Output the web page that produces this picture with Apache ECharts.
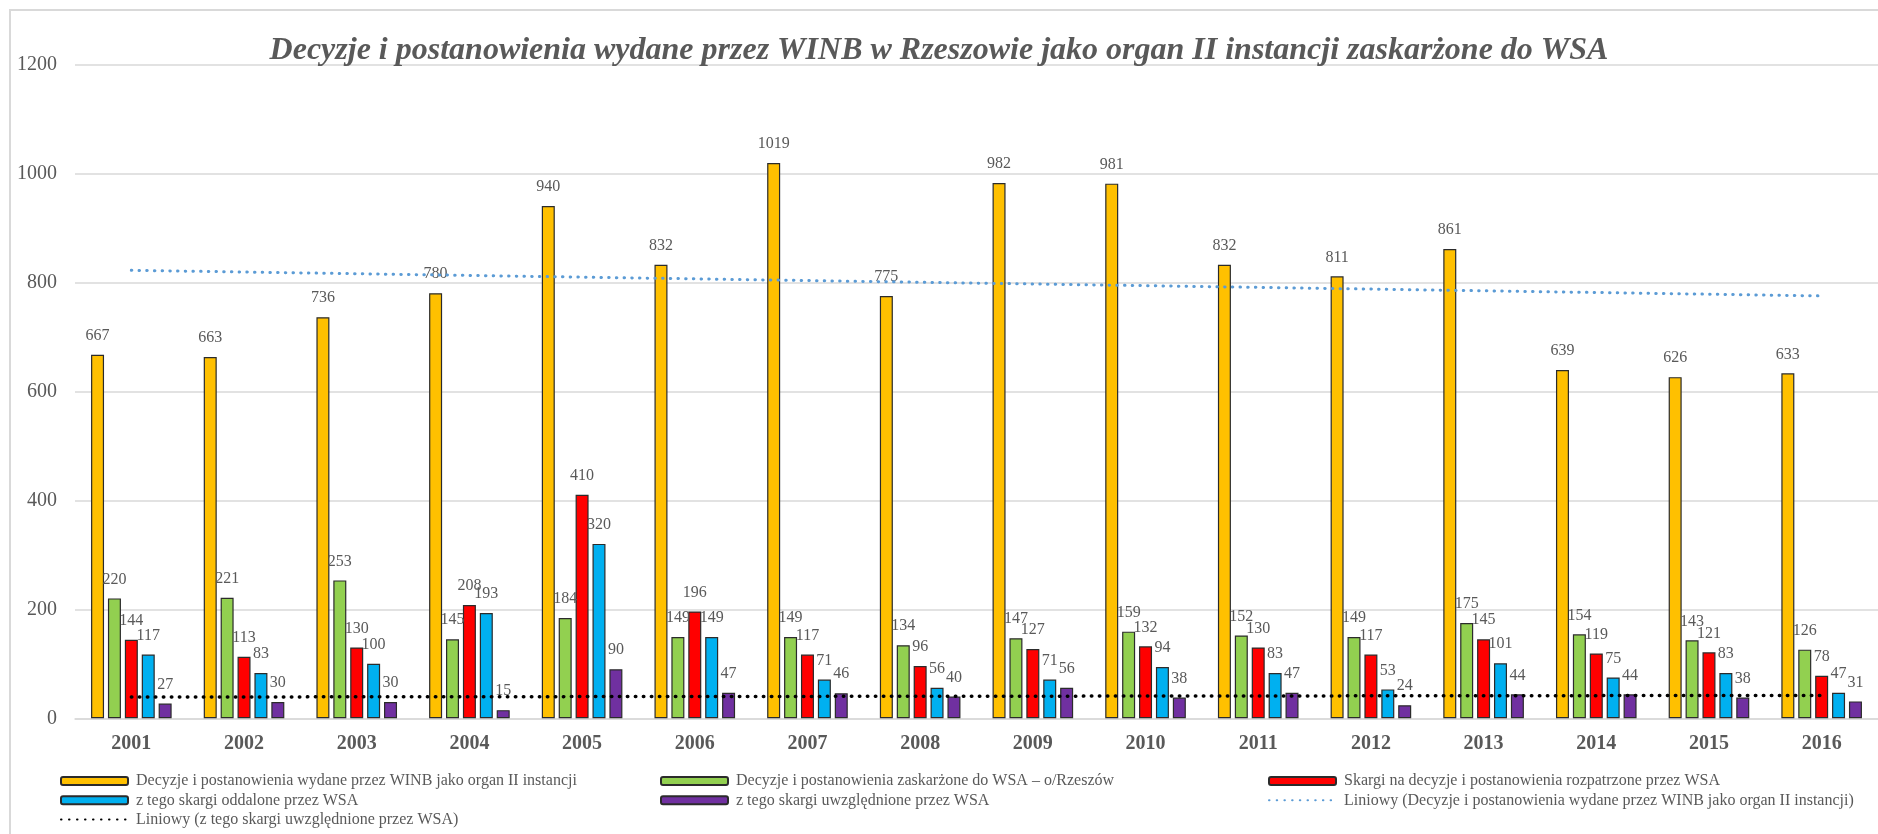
<!DOCTYPE html>
<html>
<head>
<meta charset="utf-8">
<script src="https://cdn.jsdelivr.net/npm/echarts@6/dist/echarts.min.js"></script>
<style>
html,body{margin:0;padding:0;background:#fff;}
#chart{width:1878px;height:834px;}
</style>
</head>
<body>
<div id="chart"></div>
<script>
const years = ['2001','2002','2003','2004','2005','2006','2007','2008','2009','2010','2011','2012','2013','2014','2015','2016'];
const decyzje = [667,663,736,780,940,832,1019,775,982,981,832,811,861,639,626,633];
const zaskarzone = [220,221,253,145,184,149,149,134,147,159,152,149,175,154,143,126];
const skargi = [144,113,130,208,410,196,117,96,127,132,130,117,145,119,121,78];
const oddalone = [117,83,100,193,320,149,71,56,71,94,83,53,101,75,83,47];
const uwzglednione = [27,30,30,15,90,47,46,40,56,38,47,24,44,44,38,31];
// trendline end values (first and last category)
const trendDecyzje = [822, 775];
const trendUwzgl = [39, 42];

const names = [
  'Decyzje i postanowienia wydane przez WINB jako organ II instancji',
  'Decyzje i postanowienia zaskarżone do WSA – o/Rzeszów',
  'Skargi na decyzje i postanowienia rozpatrzone przez WSA',
  'z tego skargi oddalone przez WSA',
  'z tego skargi uwzględnione przez WSA',
  'Liniowy (Decyzje i postanowienia wydane przez WINB jako organ II instancji)',
  'Liniowy (z tego skargi uwzględnione przez WSA)'
];
const colors = ['#FFC000','#92D050','#FF0000','#00B0F0','#7030A0'];
const serif = 'Liberation Serif';
const gray = '#595959';

function barSeries(i, data){
  return {
    name: names[i], type: 'bar', data: data,
    barWidth: 13, barGap: '30%',
    itemStyle: {color: colors[i], borderColor: '#2b2b2b', borderWidth: 1.2},
    label: {show: true, position: 'top', distance: 11, color: gray,
            fontFamily: serif, fontSize: 16, lineHeight: 16},
    z: 2
  };
}
const legendText = {fontFamily: serif, fontSize: 16, color: gray, lineHeight: 16, padding: [0,0,0,3]};
const lineLegend = (n) => ({name: n, itemStyle: {opacity: 0}});
const legendBase = {orient: 'vertical', top: 773, height: 80, padding: 0,
  itemWidth: 67, itemHeight: 8, itemGap: 3.3, textStyle: legendText};

const chart = echarts.init(document.getElementById('chart'), null, {renderer: 'canvas'});
chart.setOption({
  animation: false,
  backgroundColor: '#fff',
  title: {
    text: 'Decyzje i postanowienia wydane przez WINB w Rzeszowie jako organ II instancji zaskarżone do WSA',
    left: 'center', top: 30,
    textStyle: {fontFamily: serif, fontSize: 32, fontWeight: 'bold', fontStyle: 'italic', color: gray}
  },
  graphic: [{type: 'rect', shape: {x: 10, y: 10, width: 1900, height: 900},
             style: {fill: 'none', stroke: '#d9d9d9', lineWidth: 2}, silent: true, z: -1}],
  legend: [
    Object.assign({}, legendBase, {data: [names[0], names[3], lineLegend(names[6])], left: 60}),
    Object.assign({}, legendBase, {data: [names[1], names[4]], left: 660}),
    Object.assign({}, legendBase, {data: [names[2], lineLegend(names[5])], left: 1268})
  ],
  grid: {left: 75, top: 64.3, width: 1805, height: 654, containLabel: false},
  xAxis: {
    type: 'category', data: years,
    axisLine: {lineStyle: {color: '#d9d9d9', width: 1.5}},
    axisTick: {show: false},
    axisLabel: {fontFamily: serif, fontSize: 20, fontWeight: 'bold', color: gray, margin: 16}
  },
  yAxis: {
    type: 'value', min: 0, max: 1200, interval: 200,
    axisLine: {show: false}, axisTick: {show: false},
    splitLine: {lineStyle: {color: '#d9d9d9', width: 1.5}},
    axisLabel: {fontFamily: serif, fontSize: 20, color: gray, margin: 18,
                formatter: (v) => String(v)}
  },
  series: [
    barSeries(0, decyzje),
    barSeries(1, zaskarzone),
    barSeries(2, skargi),
    barSeries(3, oddalone),
    barSeries(4, uwzglednione),
    {name: names[5], type: 'line', symbol: 'none', z: 5,
     data: [[years[0], trendDecyzje[0]], [years[years.length-1], trendDecyzje[1]]],
     lineStyle: {color: '#5B9BD5', width: 3, type: [0.5, 7.2], cap: 'round'},
     itemStyle: {color: '#5B9BD5'}},
    {name: names[6], type: 'line', symbol: 'none', z: 5,
     data: [[years[0], trendUwzgl[0]], [years[years.length-1], trendUwzgl[1]]],
     lineStyle: {color: '#000000', width: 3.5, type: [0.5, 7.5], cap: 'round'},
     itemStyle: {color: '#000000'}}
  ]
});
</script>
</body>
</html>
